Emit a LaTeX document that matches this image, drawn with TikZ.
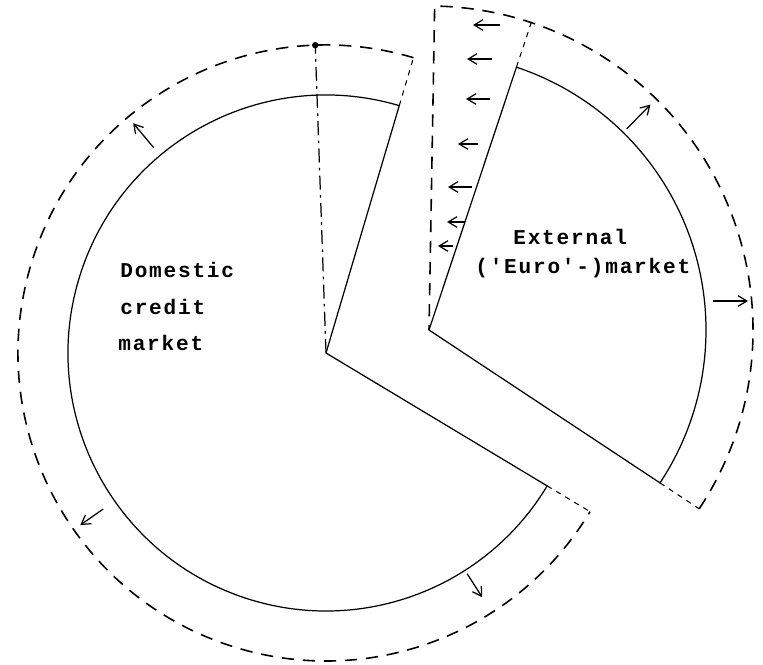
\documentclass[tikz,border=0pt]{standalone}
\usepackage{fontspec}
\newfontfamily\typefont[LetterSpace=8.5]{Liberation Mono}
\usetikzlibrary{arrows.meta}

\begin{document}
\begin{tikzpicture}[>={Straight Barb[length=5pt,width=6pt]}, x=0.02cm, y=0.02cm,
  every node/.style={font=\typefont\bfseries\fontsize{12}{14}\selectfont, inner sep=0pt},
  rim/.style={line width=0.7pt},
  outer/.style={line width=0.9pt, dash pattern=on 7pt off 5pt},
  edge/.style={line width=0.6pt, dash pattern=on 3pt off 3pt},
  axis/.style={line width=0.7pt, dash pattern=on 8pt off 3pt on 1.5pt off 3pt},
  push/.style={->, line width=0.7pt}]
  \useasboundingbox (0,0) rectangle (763,664);
  \coordinate (dom) at (326,311);
  \coordinate (ext) at (429,334);
  % Domestic market
  \draw[rim] (dom) -- ++(73.5:258) arc[start angle=73.5, end angle=329, radius=258] -- cycle;
  \draw[outer] (dom) ++(73.5:308) arc[start angle=73.5, end angle=329, radius=308];
  \draw[edge] (dom) ++(73.5:258) -- ++(73.5:50);
  \draw[edge] (dom) ++(-31:258) -- ++(-31:50);
  \draw[axis] (dom) -- ++(92:308) node[circle, fill, inner sep=1.3pt] (dot) {};
  \draw[push] (dom) ++(130:268) -- ++(130:32);
  \draw[push] (dom) ++(215:272) -- ++(215:28);
  \draw[push] (dom) ++(-57.4:262) -- ++(-57.4:28);
  \node[anchor=base west] (dom1) at (120,387) {Domestic};
  \node[anchor=base west] (dom2) at (120,350) {credit};
  \node[anchor=base west] (dom3) at (118,314) {market};
  % External market
  \draw[rim] (ext) -- ++(71.6:277) arc[start angle=71.6, end angle=-33.5, radius=277] -- cycle;
  \draw[outer] (ext) ++(-33.5:324) arc[start angle=-33.5, end angle=89, radius=324] -- (ext);
  \draw[edge] (ext) ++(71.6:277) -- ++(71.6:47);
  \draw[edge] (ext) ++(-33.5:277) -- ++(-33.5:47);
  \draw[push] (ext) ++(45.5:282) -- ++(45.5:34);
  \draw[push] (713,363) -- (748,363);
  \foreach \y/\x/\l in {639/500/27, 605/492/25, 565/490/24, 520/478/20, 477/472/24, 442/465/18, 418/453/15}
    \draw[push] (\x,\y) -- ++(-\l,0);
  \node[anchor=base west] (ext1) at (513,420) {External};
  \node[anchor=base west] (ext2) at (475,391) {('Euro'-)market};
\end{tikzpicture}
\end{document}
